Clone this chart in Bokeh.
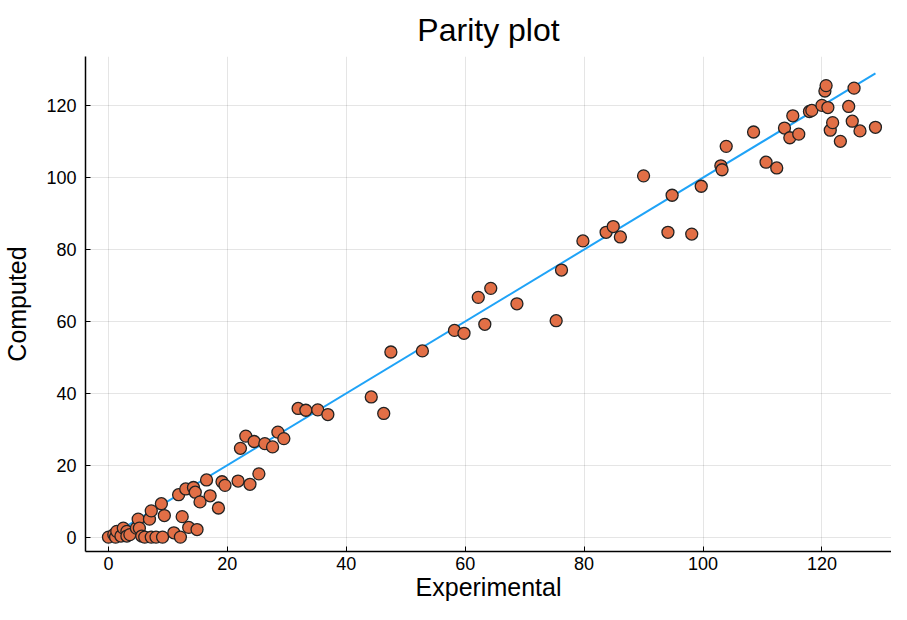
from bokeh.plotting import figure
from bokeh.embed import file_html
from bokeh.resources import INLINE
from bokeh.models import FixedTicker

experimental = [0, 0.9, 1.2, 1.4, 2.1, 2.5, 3.1, 3.1, 3.6, 4.7, 5.0, 5.2, 5.6, 6.1, 6.9, 7.2, 7.2, 8.0,
                8.9, 9.1, 9.4, 11.0, 11.8, 12.1, 12.4, 13.0, 13.5, 14.3, 14.6, 14.9, 15.4, 16.5, 17.1,
                18.5, 19.1, 19.6, 21.8, 23.8, 25.3, 22.2, 23.1, 24.5, 26.3, 27.6, 28.5, 29.5, 31.9,
                33.2, 35.2, 36.9, 44.2, 46.3, 47.5, 52.8, 58.2, 59.8, 62.2, 63.3, 64.3, 68.7, 75.3,
                76.2, 79.8, 83.7, 84.9, 86.1, 90.0, 94.1, 94.8, 98.1, 99.7, 103.0, 103.2, 103.9,
                108.5, 110.6, 112.4, 113.7, 114.6, 115.1, 116.1, 117.9, 118.3, 120.0, 120.5, 120.7,
                121.0, 121.4, 121.8, 123.1, 124.5, 125.1, 125.4, 126.4, 129.0]
computed = [0, 0.7, 0, 1.6, 0.3, 2.5, 1.6, 0.3, 0.7, 2.5, 5.0, 2.5, 0.3, 0, 5.0, 7.3, 0, 0,
            9.3, 0, 6.0, 1.2, 11.8, 0, 5.7, 13.4, 2.7, 13.8, 12.5, 2.1, 9.8, 15.9, 11.5,
            8.1, 15.4, 14.4, 15.6, 14.7, 17.6, 24.7, 28.1, 26.6, 26.0, 25.1, 29.2, 27.4, 35.8,
            35.3, 35.4, 34.1, 39.0, 34.4, 51.5, 51.8, 57.5, 56.7, 66.7, 59.2, 69.2, 64.9, 60.2,
            74.3, 82.4, 84.8, 86.4, 83.5, 100.5, 84.8, 95.1, 84.3, 97.6, 103.3, 102.2, 108.7,
            112.7, 104.3, 102.7, 113.8, 111.1, 117.2, 112.1, 118.4, 118.7, 120.1, 124.1, 125.6,
            119.5, 113.2, 115.3, 110.1, 119.8, 115.7, 124.9, 113.0, 114.0]
ticks = [0, 20, 40, 60, 80, 100, 120]

FONT = "Liberation Sans"

p = figure(width=891, height=604, output_backend="svg", toolbar_location=None,
           x_range=(-3.86, 131.7), y_range=(-4.0, 133.7),
           title="Parity plot", min_border_left=83, min_border_right=0,
           min_border_top=56, min_border_bottom=53)

p.title.align = "center"
p.title.text_font = FONT
p.title.text_font_size = "32px"
p.title.text_font_style = "normal"
p.title.text_color = "#000000"
p.title.standoff = 18

p.outline_line_color = None
p.background_fill_color = "white"
p.border_fill_color = "white"

for ax in (p.xaxis[0], p.yaxis[0]):
    ax.ticker = FixedTicker(ticks=ticks)
    ax.minor_tick_line_color = None
    ax.major_tick_in = 5
    ax.major_tick_out = 0
    ax.axis_line_color = "#000000"
    ax.axis_line_width = 1.5
    ax.major_tick_line_color = "#000000"
    ax.major_label_text_font = FONT
    ax.major_label_text_font_size = "18px"
    ax.major_label_text_color = "#000000"
    ax.axis_label_text_font = FONT
    ax.axis_label_text_font_size = "25px"
    ax.axis_label_text_font_style = "normal"
    ax.axis_label_text_color = "#000000"

p.xaxis.axis_label = "Experimental"
p.yaxis.axis_label = "Computed"
p.xaxis.major_label_standoff = 5
p.xaxis.axis_label_standoff = 0
p.yaxis.major_label_standoff = 9
p.yaxis.axis_label_standoff = 12

p.xgrid.ticker = FixedTicker(ticks=ticks)
p.ygrid.ticker = FixedTicker(ticks=ticks)
p.grid.grid_line_color = "#000000"
p.grid.grid_line_alpha = 0.1
p.grid.grid_line_width = 1

lo, hi = min(experimental), max(experimental)
p.line([lo, hi], [lo, hi], line_color="#1FA3F7", line_width=2)
p.scatter(experimental, computed, size=12, fill_color="#E26F46",
          line_color="#222222", line_width=1.3)

open("out.html", "w").write(file_html(p, INLINE))
